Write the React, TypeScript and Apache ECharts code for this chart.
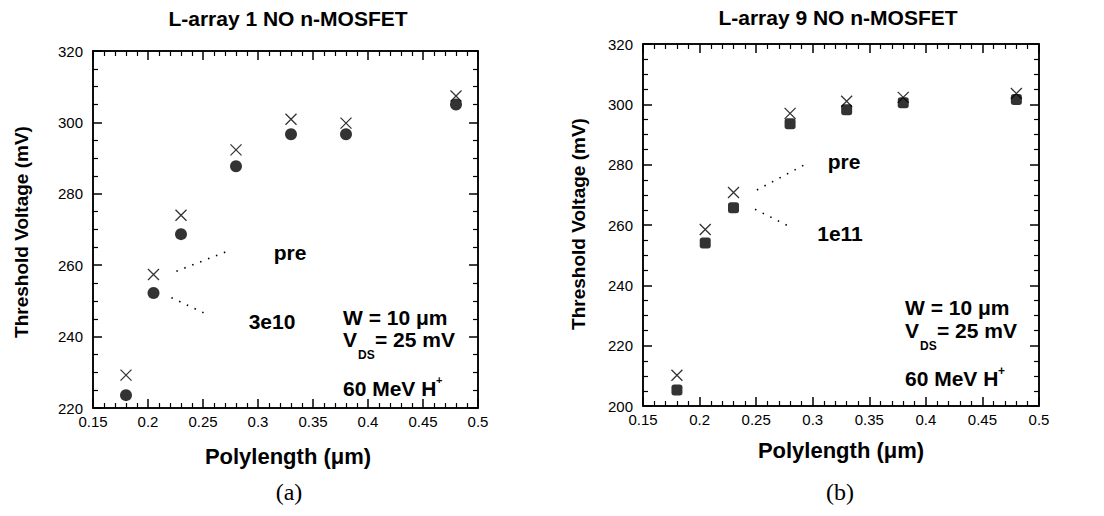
import React, { useEffect, useRef } from "react";
import * as echarts from "echarts";

// ---- data ----
const polylength = [0.18, 0.205, 0.23, 0.28, 0.33, 0.38, 0.48];
const preA = [229.2, 257.4, 274.0, 292.3, 300.9, 299.8, 307.4];
const postA = [223.6, 252.2, 268.7, 287.7, 296.7, 296.7, 305.0];
const preB = [210.2, 258.5, 270.8, 297.0, 301.0, 302.3, 303.6];
const postB = [205.3, 254.0, 265.7, 293.6, 298.2, 300.5, 301.6];

const xRange = [0.15, 0.5];
const yRangeA = [220, 320];
const yRangeB = [200, 320];

const leaderPreA = [[0.2258, 258.3], [0.2713, 263.8]];
const leaderPostA = [[0.2213, 250.9], [0.2545, 246.1]];
const leaderPreB = [[0.2507, 271.6], [0.2934, 280.1]];
const leaderPostB = [[0.249, 265.2], [0.2816, 259.1]];

const titles = ["L-array 1 NO n-MOSFET", "L-array 9 NO n-MOSFET"];
const yName = "Threshold Voltage (mV)";
const xName = "Polylength (\u03bcm)";
const doseA = "3e10";
const doseB = "1e11";

const FONT = "'Liberation Sans', Arial, Helvetica, sans-serif";
const CROSS = "path://M0,0L10,10M10,0L0,10";
const LABEL_SIZE = 15;

const bold = (size: number) => `bold ${size}px ${FONT}`;
const txt = (text: string, x: number, y: number, font: string, align = "left", rotation = 0) => ({
  type: "text",
  x,
  y,
  rotation,
  style: { text, font, fill: "#000", align, verticalAlign: "middle" },
});

function buildOption(
  grid: any,
  yRange: number[],
  pre: number[],
  post: number[],
  postSymbol: string,
  leaders: number[][][],
  graphics: any[]
) {
  const mkX = (pos: string, labels: boolean) => ({
    type: "value",
    position: pos,
    min: xRange[0],
    max: xRange[1],
    interval: 0.05,
    axisLine: { show: true, lineStyle: { color: "#000", width: 1.5 } },
    axisTick: { show: true, inside: true, length: 9, lineStyle: { color: "#000", width: 1.5 } },
    minorTick: { show: true, splitNumber: 5, length: 5, lineStyle: { color: "#000", width: 1.2 } },
    splitLine: { show: false },
    axisLabel: {
      show: labels,
      formatter: (v: number) => String(+v.toFixed(2)),
      color: "#000",
      fontFamily: FONT,
      fontSize: LABEL_SIZE,
      margin: 6,
    },
  });
  const mkY = (pos: string, labels: boolean) => ({
    type: "value",
    position: pos,
    min: yRange[0],
    max: yRange[1],
    interval: 20,
    axisLine: { show: true, lineStyle: { color: "#000", width: 1.5 } },
    axisTick: { show: true, inside: true, length: 9, lineStyle: { color: "#000", width: 1.5 } },
    minorTick: { show: true, splitNumber: 4, length: 5, lineStyle: { color: "#000", width: 1.2 } },
    splitLine: { show: false },
    axisLabel: { show: labels, color: "#000", fontFamily: FONT, fontSize: LABEL_SIZE, margin: 10 },
  });
  const pairs = (ys: number[]) => polylength.map((x, i) => [x, ys[i]]);
  const series: any[] = [
    {
      type: "scatter",
      data: pairs(pre),
      symbol: CROSS,
      symbolSize: 11,
      itemStyle: { color: "none", borderColor: "#000", borderWidth: 1.3 },
      z: 5,
    },
    {
      type: "scatter",
      data: pairs(post),
      symbol: postSymbol,
      symbolSize: postSymbol === "circle" ? 12 : 11,
      itemStyle: { color: "#000" },
      z: 5,
    },
    ...leaders.map((pts) => ({
      type: "line",
      data: pts,
      symbol: "none",
      lineStyle: { color: "#000", width: 1.6, type: [1.5, 7] },
      z: 3,
    })),
  ];
  return {
    animation: false,
    grid: { ...grid, show: true, borderColor: "#000", borderWidth: 1.5, backgroundColor: "transparent" },
    xAxis: [mkX("bottom", true), mkX("top", false)],
    yAxis: [mkY("left", true), mkY("right", false)],
    series,
    graphic: graphics,
  };
}

function Panel({ build, left }: { build: () => any; left: number }) {
  const ref = useRef<HTMLDivElement>(null);
  useEffect(() => {
    if (!ref.current) return;
    const chart = echarts.init(ref.current, null, { renderer: "svg" });
    chart.setOption(build());
    return () => chart.dispose();
  }, [build]);
  return <div ref={ref} style={{ position: "absolute", left, top: 0, width: 552, height: 516 }} />;
}

const annFont = bold(21);
const serif = "24px 'Liberation Serif', 'Times New Roman', serif";

const buildA = () =>
  buildOption(
    { left: 93, top: 51, width: 385, height: 357 },
    yRangeA,
    preA,
    postA,
    "circle",
    [leaderPreA, leaderPostA],
    [
      txt(titles[0], 288, 18, bold(21), "center"),
      txt(yName, 21, 232, bold(19), "center", Math.PI / 2),
      txt(xName, 288, 456, bold(22), "center"),
      txt("(a)", 289, 492, serif, "center"),
      txt("pre", 290, 252, annFont, "center"),
      txt(doseA, 272, 321, annFont, "center"),
      txt("W = 10 \u03bcm", 343, 317, annFont),
      txt("V", 343, 339, annFont),
      txt("DS", 358, 355, bold(12)),
      txt("= 25 mV", 375, 339, annFont),
      txt("60 MeV H", 343, 388, annFont),
      txt("+", 436, 380, bold(11)),
    ]
  );

const OX = 552;
const buildB = () =>
  buildOption(
    { left: 643 - OX, top: 44, width: 396, height: 362 },
    yRangeB,
    preB,
    postB,
    "roundRect",
    [leaderPreB, leaderPostB],
    [
      txt(titles[1], 838 - OX, 17, bold(21), "center"),
      txt(yName, 578 - OX, 224, bold(19), "center", Math.PI / 2),
      txt(xName, 841 - OX, 450, bold(22), "center"),
      txt("(b)", 840 - OX, 492, serif, "center"),
      txt("pre", 844 - OX, 161, annFont, "center"),
      txt(doseB, 840 - OX, 233, annFont, "center"),
      txt("W = 10 \u03bcm", 905 - OX, 307, annFont),
      txt("V", 905 - OX, 330, annFont),
      txt("DS", 920 - OX, 346, bold(12)),
      txt("= 25 mV", 937 - OX, 330, annFont),
      txt("60 MeV H", 905 - OX, 378, annFont),
      txt("+", 998 - OX, 371, bold(12)),
    ]
  );

export default function App() {
  return (
    <div style={{ position: "absolute", left: 0, top: 0, width: 1104, height: 516 }}>
      <Panel build={buildA} left={0} />
      <Panel build={buildB} left={OX} />
    </div>
  );
}
